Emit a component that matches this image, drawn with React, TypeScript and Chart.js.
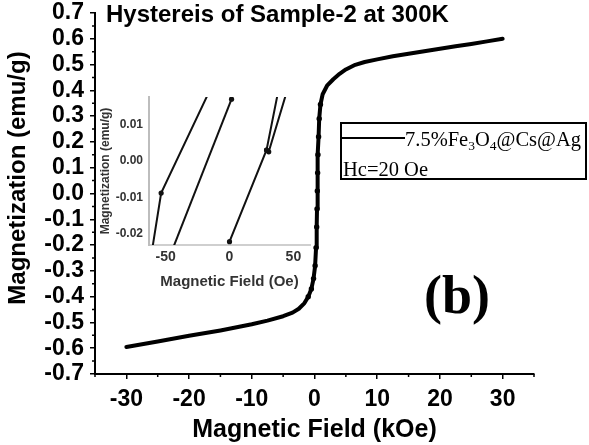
import React, { useEffect, useRef } from "react";
import { Chart, registerables } from "chart.js";

Chart.register(...registerables);

const W = 589;
const H = 445;
const SANS = "'Liberation Sans', Arial, sans-serif";
const SERIF = "'Liberation Serif', 'Times New Roman', serif";

// ---- text ----
const CHART_TITLE = "Hystereis of Sample-2 at 300K";
const X_TITLE = "Magnetic Field (kOe)";
const Y_TITLE = "Magnetization (emu/g)";
const INSET_X_TITLE = "Magnetic Field (Oe)";
const INSET_Y_TITLE = "Magnetization (emu/g)";
const PANEL_LABEL = "(b)";
const HC_LABEL = "Hc=20 Oe";
// [text, isSubscript]
const LEGEND_PARTS: [string, boolean][] = [
  ["7.5%Fe", false],
  ["3", true],
  ["O", false],
  ["4", true],
  ["@Cs@Ag", false],
];

// ---- main axis ticks ----
const X_MAJOR_TICKS = [-30, -20, -10, 0, 10, 20, 30];
const X_MINOR_TICKS = [-35, -25, -15, -5, 5, 15, 25, 35];
const Y_MAJOR_TICKS = [-0.7, -0.6, -0.5, -0.4, -0.3, -0.2, -0.1, 0, 0.1, 0.2, 0.3, 0.4, 0.5, 0.6, 0.7];
const Y_MINOR_TICKS = [-0.65, -0.55, -0.45, -0.35, -0.25, -0.15, -0.05, 0.05, 0.15, 0.25, 0.35, 0.45, 0.55, 0.65];

// ---- main hysteresis loop (kOe, emu/g) ----
const fieldKOe = [
  -30, -25, -20, -15, -12, -10, -7.5, -5, -3.5, -2.5,
  -1.6, -1, -0.5, -0.15, 0.1, 0.25, 0.35, 0.4, 0.45, 0.5,
  0.55, 0.65, 0.75, 0.95, 1.3, 2, 3, 4, 5, 6.5,
  8, 10, 12.5, 15, 17.5, 20, 22.5, 25, 27.5, 30,
];
const magnetization = [
  -0.595, -0.574, -0.552, -0.531, -0.517, -0.507, -0.493, -0.476, -0.462, -0.447,
  -0.425, -0.4, -0.37, -0.33, -0.28, -0.21, -0.13, -0.06, 0.01, 0.08,
  0.15, 0.22, 0.29, 0.345, 0.385, 0.418, 0.443, 0.464, 0.481, 0.499,
  0.51, 0.52, 0.532, 0.542, 0.552, 0.561, 0.571, 0.58, 0.59, 0.6,
];

// ---- inset (Oe, emu/g), low-field detail ----
const INSET_X_TICKS = [-50, 0, 50];
const INSET_Y_TICKS = [-0.02, -0.01, 0, 0.01];
const insetFieldA = [5, -53.5, -62];
const insetMagA = [0.0344, -0.0088, -0.0275];
const insetFieldB = [1.6, -50];
const insetMagB = [0.0169, -0.029];
const insetFieldC = [0, 29, 39.5, 47, 30.7, 29];
const insetMagC = [-0.0221, 0.003, 0.0215, 0.0215, 0.0025, 0.003];

const pts = (xs: number[], ys: number[]) => xs.map((x, i) => ({ x, y: ys[i] }));

const overlayPlugin = {
  id: "overlay",
  afterDraw(chart: any) {
    const ctx = chart.ctx as CanvasRenderingContext2D;
    const xs = chart.scales.x;
    const ys = chart.scales.y;
    ctx.save();
    // minor ticks
    ctx.strokeStyle = "#000";
    ctx.lineWidth = 1.5;
    ctx.beginPath();
    for (const v of X_MINOR_TICKS) {
      const px = xs.getPixelForValue(v);
      ctx.moveTo(px, xs.top);
      ctx.lineTo(px, xs.top + 3);
    }
    for (const v of Y_MINOR_TICKS) {
      const py = ys.getPixelForValue(v);
      ctx.moveTo(ys.right - 3, py);
      ctx.lineTo(ys.right, py);
    }
    ctx.stroke();

    // chart title
    ctx.fillStyle = "#000";
    ctx.font = `bold 24px ${SANS}`;
    ctx.textAlign = "left";
    ctx.textBaseline = "alphabetic";
    ctx.fillText(CHART_TITLE, 106, 22);

    // y axis title
    ctx.save();
    ctx.translate(25, 178);
    ctx.rotate(-Math.PI / 2);
    ctx.textAlign = "center";
    ctx.font = `bold 24px ${SANS}`;
    ctx.fillText(Y_TITLE, 0, 0);
    ctx.restore();

    // legend box
    ctx.lineWidth = 2;
    ctx.strokeRect(341, 123, 245, 56);
    ctx.beginPath();
    ctx.moveTo(342, 138);
    ctx.lineTo(405, 138);
    ctx.lineWidth = 2;
    ctx.stroke();
    let tx = 405;
    for (const [t, sub] of LEGEND_PARTS) {
      ctx.font = sub ? `13.5px ${SERIF}` : `20.5px ${SERIF}`;
      ctx.fillText(t, tx, sub ? 150 : 146);
      tx += ctx.measureText(t).width;
    }
    ctx.font = `20.5px ${SERIF}`;
    ctx.fillText(HC_LABEL, 343, 176);

    // panel label
    ctx.font = `bold 54px ${SERIF}`;
    ctx.fillText(PANEL_LABEL, 424, 313);
    ctx.restore();
  },
};

export default function App() {
  const mainRef = useRef<HTMLCanvasElement>(null);
  const insetRef = useRef<HTMLCanvasElement>(null);

  useEffect(() => {
    const main = new Chart(mainRef.current!, {
      type: "scatter",
      data: {
        datasets: [
          {
            label: "7.5%Fe3O4@Cs@Ag",
            data: pts(fieldKOe, magnetization),
            showLine: true,
            borderColor: "#000",
            backgroundColor: "#000",
            borderWidth: 4,
            borderCapStyle: "round",
            borderJoinStyle: "round",
            pointRadius: (c: any) => (c.raw && Math.abs(c.raw.x) < 1.2 ? 2.7 : 0),
            pointBorderWidth: 0,
            tension: 0,
          },
        ],
      },
      options: {
        responsive: false,
        animation: false,
        devicePixelRatio: 1,
        layout: { padding: { left: 0, top: 13, right: W - 534, bottom: 0 } },
        plugins: { legend: { display: false }, tooltip: { enabled: false } },
        scales: {
          x: {
            type: "linear",
            min: -35,
            max: 35,
            afterBuildTicks: (s: any) => {
              s.ticks = X_MAJOR_TICKS.map((v) => ({ value: v }));
            },
            afterFit: (s: any) => {
              s.height = H - 374;
              s.paddingLeft = 0;
              s.paddingRight = 0;
            },
            ticks: {
              autoSkip: false,
              maxRotation: 0,
              padding: 7,
              color: "#000",
              font: { family: SANS, size: 23, weight: "bold" },
              callback: (v: any) => String(v),
            },
            grid: { display: true, drawOnChartArea: false, drawTicks: true, tickLength: 5, color: "#000", lineWidth: 1.5 },
            border: { display: true, color: "#000", width: 2 },
            title: {
              display: true,
              text: X_TITLE,
              color: "#000",
              font: { family: SANS, size: 25, weight: "bold" },
              padding: { top: 0, bottom: 0 },
            },
          },
          y: {
            type: "linear",
            min: -0.7,
            max: 0.7,
            afterBuildTicks: (s: any) => {
              s.ticks = Y_MAJOR_TICKS.map((v) => ({ value: v }));
            },
            afterFit: (s: any) => {
              s.width = 95;
              s.paddingTop = 0;
              s.paddingBottom = 0;
            },
            ticks: {
              autoSkip: false,
              padding: 6,
              color: "#000",
              font: { family: SANS, size: 23, weight: "bold" },
              callback: (v: any) => Number(v).toFixed(1),
            },
            grid: { display: true, drawOnChartArea: false, drawTicks: true, tickLength: 5, color: "#000", lineWidth: 1.5 },
            border: { display: true, color: "#000", width: 2 },
          },
        },
      },
      plugins: [overlayPlugin],
    } as any);

    const insetLine = (xs: number[], ys: number[]) => ({
      data: pts(xs, ys),
      showLine: true,
      borderColor: "#111",
      backgroundColor: "#111",
      borderWidth: 2,
      pointRadius: 2.6,
      pointBorderWidth: 0,
      tension: 0,
    });

    const inset = new Chart(insetRef.current!, {
      type: "scatter",
      data: {
        datasets: [
          insetLine(insetFieldA, insetMagA),
          insetLine(insetFieldB, insetMagB),
          insetLine(insetFieldC, insetMagC),
        ],
      },
      options: {
        responsive: false,
        animation: false,
        devicePixelRatio: 1,
        layout: { padding: { left: 97, top: 97, right: W - 310, bottom: 154 } },
        plugins: { legend: { display: false }, tooltip: { enabled: false } },
        scales: {
          x: {
            type: "linear",
            min: -63,
            max: 63,
            afterBuildTicks: (s: any) => {
              s.ticks = INSET_X_TICKS.map((v) => ({ value: v }));
            },
            afterFit: (s: any) => {
              s.height = 46;
              s.paddingLeft = 0;
              s.paddingRight = 0;
            },
            ticks: {
              autoSkip: false,
              maxRotation: 0,
              padding: 4,
              color: "#333",
              font: { family: SANS, size: 14, weight: "bold" },
              callback: (v: any) => String(v),
            },
            grid: { display: true, drawOnChartArea: false, drawTicks: false },
            border: { display: true, color: "#cfcfcf", width: 2 },
            title: {
              display: true,
              text: INSET_X_TITLE,
              color: "#333",
              font: { family: SANS, size: 15, weight: "bold" },
              padding: { top: 0, bottom: 0 },
            },
          },
          y: {
            type: "linear",
            min: -0.023,
            max: 0.0175,
            afterBuildTicks: (s: any) => {
              s.ticks = INSET_Y_TICKS.map((v) => ({ value: v }));
            },
            afterFit: (s: any) => {
              s.width = 52;
              s.paddingTop = 0;
              s.paddingBottom = 0;
            },
            ticks: {
              autoSkip: false,
              padding: 6,
              color: "#333",
              font: { family: SANS, size: 12, weight: "bold" },
              callback: (v: any) => Number(v).toFixed(2),
            },
            grid: { display: true, drawOnChartArea: false, drawTicks: false },
            border: { display: true, color: "#bdbdbd", width: 2 },
            title: {
              display: true,
              text: INSET_Y_TITLE,
              color: "#333",
              font: { family: SANS, size: 12, weight: "bold" },
              padding: { top: 1, bottom: 0 },
            },
          },
        },
      },
    } as any);

    return () => {
      main.destroy();
      inset.destroy();
    };
  }, []);

  return (
    <div style={{ position: "absolute", left: 0, top: 0, width: W, height: H, background: "#fff" }}>
      <canvas ref={mainRef} width={W} height={H} style={{ position: "absolute", left: 0, top: 0, width: W, height: H }} />
      <canvas
        ref={insetRef}
        width={W}
        height={H}
        style={{ position: "absolute", left: 0, top: 0, width: W, height: H, pointerEvents: "none" }}
      />
    </div>
  );
}
